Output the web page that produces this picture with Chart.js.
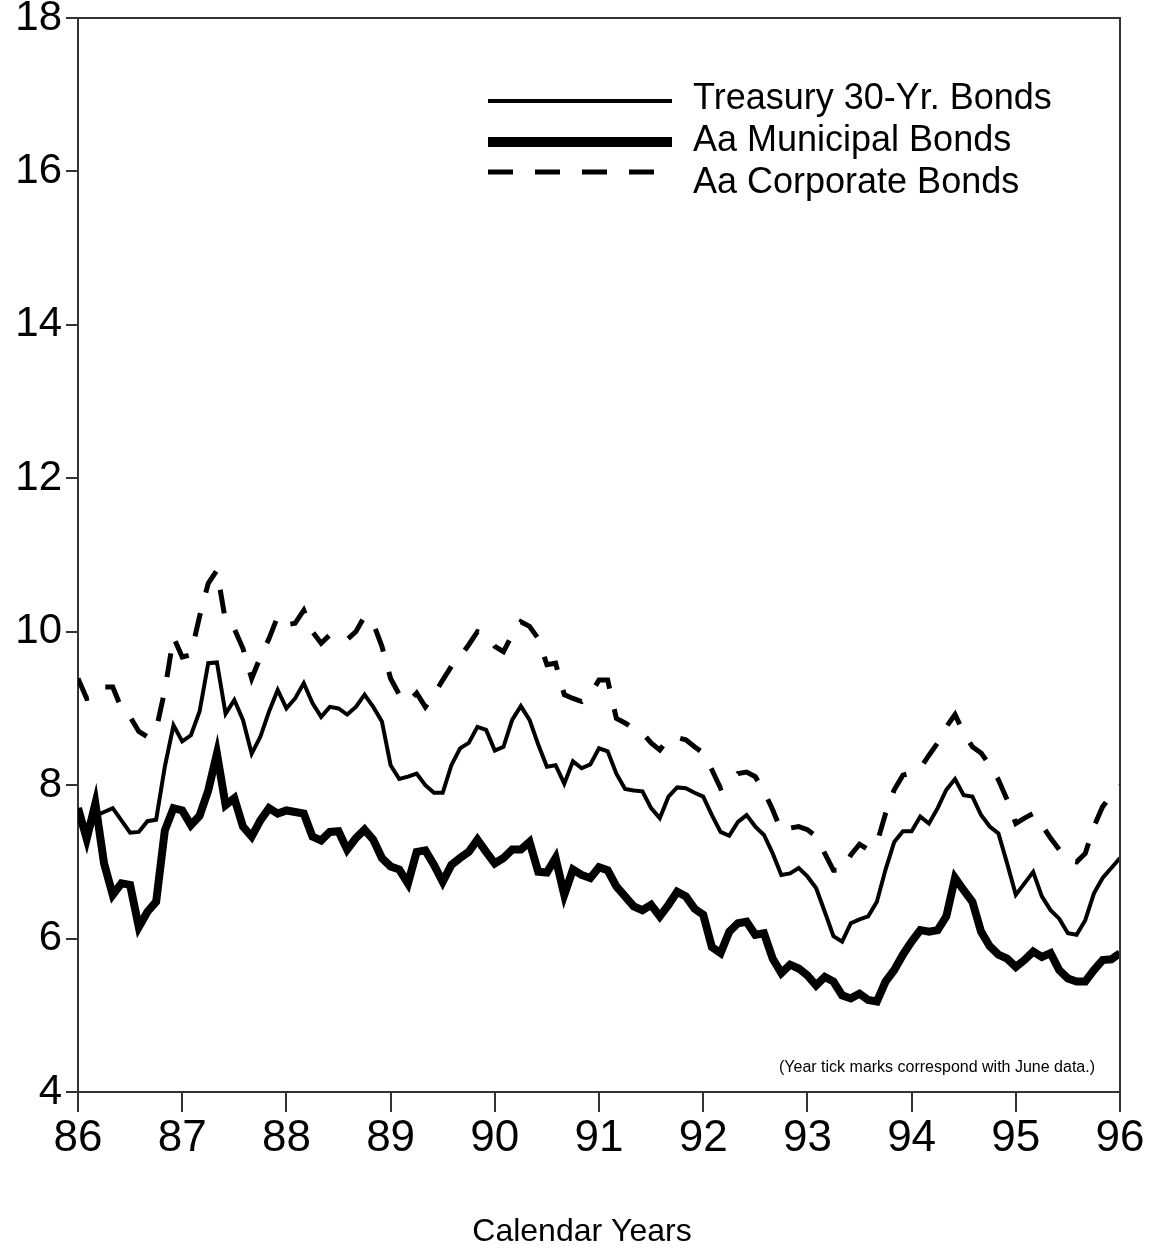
<!DOCTYPE html>
<html lang="en">
  <head>
    <meta charset="UTF-8" />
    <title>Treasury, Municipal and Corporate Bond Yields</title>
    <script src="https://cdn.jsdelivr.net/npm/chart.js"></script>
    <style>
      html, body { margin: 0; padding: 0; background: #fff; }
      .container { width: 1153px; height: 1249px; position: relative; }
    </style>
  </head>
  <body>
    <div class="container"><canvas id="graficoTaxas"></canvas></div>

    <script>
      // one tick per June, 86 .. 96 ; data is monthly (121 points)
      const yearLabels = ["86", "87", "88", "89", "90", "91", "92", "93", "94", "95", "96"];
      const seriesNames = ["Treasury 30-Yr. Bonds", "Aa Municipal Bonds", "Aa Corporate Bonds"];
      const footNote = "(Year tick marks correspond with June data.)";
      const axisTitle = "Calendar Years";

      const treasury = [
        7.7, 7.3, 7.6, 7.65, 7.7, 7.54, 7.38, 7.39, 7.53, 7.55, 8.24, 8.78,
        8.57, 8.65, 8.96, 9.59, 9.6, 8.93, 9.11, 8.85, 8.41, 8.63, 8.96, 9.24,
        9.0, 9.13, 9.33, 9.07, 8.89, 9.02, 9.0, 8.92, 9.02, 9.18, 9.02, 8.83,
        8.26, 8.08, 8.11, 8.15, 8.0, 7.9, 7.9, 8.26, 8.48, 8.55, 8.76, 8.72,
        8.45, 8.5, 8.85, 9.03, 8.85, 8.53, 8.24, 8.26, 8.02, 8.31, 8.22, 8.27,
        8.48, 8.44, 8.15, 7.95, 7.93, 7.92, 7.7, 7.57, 7.85, 7.97, 7.96, 7.9,
        7.85, 7.61, 7.39, 7.34, 7.52, 7.61, 7.46, 7.35, 7.11, 6.83, 6.85, 6.92,
        6.81, 6.66, 6.35, 6.03, 5.96, 6.2, 6.25, 6.29, 6.48, 6.9, 7.26, 7.4,
        7.4, 7.59, 7.5, 7.7, 7.94, 8.08, 7.87, 7.85, 7.61, 7.46, 7.37, 6.98,
        6.57, 6.72, 6.87, 6.55, 6.37, 6.26, 6.07, 6.05, 6.24, 6.59, 6.79, 6.92,
        7.05
      ];

      const municipal = [
        7.7, 7.3, 7.76, 6.98, 6.57, 6.72, 6.7, 6.15, 6.35, 6.48, 7.41, 7.7,
        7.67, 7.48, 7.6, 7.93, 8.41, 7.74, 7.83, 7.46, 7.33, 7.54, 7.7, 7.63,
        7.67, 7.65, 7.63, 7.33, 7.28, 7.39, 7.4, 7.16, 7.31, 7.42, 7.29, 7.05,
        6.94, 6.9, 6.72, 7.13, 7.15, 6.96, 6.74, 6.96, 7.05, 7.13, 7.29, 7.13,
        6.98, 7.05, 7.16, 7.16, 7.26, 6.87, 6.86, 7.05, 6.57, 6.9, 6.83, 6.79,
        6.93, 6.89, 6.68, 6.55, 6.42, 6.37, 6.44, 6.29, 6.44, 6.61, 6.55, 6.39,
        6.31, 5.89, 5.81, 6.09, 6.2, 6.22, 6.05, 6.07, 5.74, 5.55, 5.66, 5.61,
        5.52, 5.39, 5.5, 5.44, 5.26, 5.22, 5.28, 5.2, 5.18, 5.44, 5.59, 5.79,
        5.96, 6.11, 6.09, 6.11, 6.29, 6.79, 6.63, 6.48, 6.09, 5.9, 5.79, 5.74,
        5.63, 5.72, 5.83, 5.76, 5.81, 5.59, 5.48, 5.44, 5.44, 5.59, 5.72, 5.73,
        5.81
      ];

      const corporate = [
        9.39, 9.13, 9.15, 9.28, 9.28, 9.0, 8.89, 8.7, 8.63, 8.72, 9.24, 9.93,
        9.67, 9.7, 10.2, 10.63, 10.8, 10.13, 10.04, 9.78, 9.39, 9.67, 9.91, 10.2,
        10.09, 10.11, 10.28, 10.0, 9.85, 9.96, 9.96, 9.9, 10.0, 10.2, 10.11, 9.81,
        9.39, 9.18, 9.08, 9.2, 9.02, 9.18, 9.37, 9.55, 9.67, 9.83, 10.0, 9.96,
        9.81, 9.74, 9.96, 10.13, 10.07, 9.91, 9.57, 9.59, 9.18, 9.13, 9.09, 9.18,
        9.37, 9.37, 8.87, 8.81, 8.74, 8.68, 8.55, 8.46, 8.61, 8.62, 8.59, 8.5,
        8.42, 8.2, 7.96, 8.0, 8.15, 8.17, 8.11, 7.92, 7.68, 7.4, 7.44, 7.46,
        7.42, 7.33, 7.11, 6.89, 6.89, 7.09, 7.23, 7.16, 7.24, 7.63, 7.94, 8.13,
        8.16, 8.22, 8.39, 8.55, 8.76, 8.92, 8.68, 8.5, 8.42, 8.26, 8.07, 7.81,
        7.5, 7.57, 7.63, 7.48, 7.31, 7.16, 7.03, 7.0, 7.11, 7.46, 7.72, 7.87,
        7.99
      ];

      const FONT = "'Liberation Sans', Arial, Helvetica, sans-serif";
      const AXIS_COLOR = "#333";
      const DASH = [24, 21];

      const comMeses = (arr) => arr.map((v, i) => ({ x: i, y: v }));

      // top + right edge of the box, legend, foot note and axis title
      const molduraETextos = {
        id: "molduraETextos",
        afterDraw(chart) {
          const { ctx, chartArea } = chart;
          ctx.save();
          ctx.strokeStyle = AXIS_COLOR;
          ctx.lineWidth = 2;
          ctx.beginPath();
          ctx.moveTo(chartArea.left, chartArea.top);
          ctx.lineTo(chartArea.right, chartArea.top);
          ctx.lineTo(chartArea.right, chartArea.bottom);
          ctx.stroke();

          // legend
          const amostras = [
            { y: 101, w: 4, dash: [] },
            { y: 142, w: 10, dash: [] },
            { y: 172, w: 5, dash: [25, 22] },
          ];
          const textoY = [99, 141, 183];
          ctx.strokeStyle = "#000";
          ctx.lineCap = "butt";
          amostras.forEach((a) => {
            ctx.lineWidth = a.w;
            ctx.setLineDash(a.dash);
            ctx.beginPath();
            ctx.moveTo(488, a.y);
            ctx.lineTo(672, a.y);
            ctx.stroke();
          });
          ctx.setLineDash([]);
          ctx.fillStyle = "#000";
          ctx.font = "36px " + FONT;
          ctx.textAlign = "left";
          ctx.textBaseline = "middle";
          seriesNames.forEach((nome, i) => ctx.fillText(nome, 693, textoY[i]));

          // note
          ctx.font = "16px " + FONT;
          ctx.textAlign = "right";
          ctx.fillText(footNote, 1095, 1068);

          // x axis title
          ctx.font = "32px " + FONT;
          ctx.textAlign = "center";
          ctx.fillText(axisTitle, 582, 1232);
          ctx.restore();
        },
      };

      const ctx = document.getElementById("graficoTaxas").getContext("2d");
      new Chart(ctx, {
        type: "line",
        data: {
          datasets: [
            {
              label: seriesNames[0],
              data: comMeses(treasury),
              borderColor: "#000",
              borderWidth: 4,
            },
            {
              label: seriesNames[1],
              data: comMeses(municipal),
              borderColor: "#000",
              borderWidth: 8,
            },
            {
              label: seriesNames[2],
              data: comMeses(corporate),
              borderColor: "#000",
              borderWidth: 5,
              borderDash: DASH,
            },
          ],
        },
        options: {
          responsive: true,
          maintainAspectRatio: false,
          animation: false,
          layout: { padding: { top: 18, right: 33, left: 0, bottom: 0 } },
          elements: {
            point: { radius: 0 },
            line: { tension: 0, borderJoinStyle: "miter", borderCapStyle: "butt" },
          },
          plugins: {
            legend: { display: false },
            tooltip: { enabled: false },
          },
          scales: {
            x: {
              type: "linear",
              min: 0,
              max: 120,
              afterFit(scale) {
                scale.height = 157;
                scale.paddingLeft = 0;
                scale.paddingRight = 0;
              },
              ticks: {
                stepSize: 12,
                autoSkip: false,
                maxRotation: 0,
                padding: 0,
                color: "#000",
                font: { family: FONT, size: 44 },
                callback: (v) => yearLabels[Math.round(v / 12)],
              },
              grid: {
                drawOnChartArea: false,
                tickLength: 20,
                color: AXIS_COLOR,
                lineWidth: 2,
              },
              border: { color: AXIS_COLOR, width: 2 },
            },
            y: {
              min: 4,
              max: 18,
              afterFit(scale) {
                scale.width = 78;
                scale.paddingTop = 0;
                scale.paddingBottom = 0;
              },
              ticks: {
                stepSize: 2,
                padding: 4,
                color: "#000",
                font: { family: FONT, size: 42 },
              },
              grid: {
                drawOnChartArea: false,
                tickLength: 12,
                color: AXIS_COLOR,
                lineWidth: 2,
              },
              border: { color: AXIS_COLOR, width: 2 },
            },
          },
        },
        plugins: [molduraETextos],
      });
    </script>
  </body>
</html>
